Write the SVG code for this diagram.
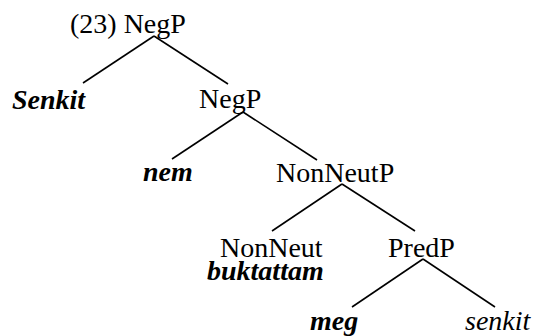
<svg xmlns="http://www.w3.org/2000/svg" width="535" height="336" viewBox="0 0 535 336">
<style>
text{font-family:'Liberation Serif','Times New Roman',Times,serif;font-size:28px;fill:#000}
.bi{font-weight:bold;font-style:italic}
.i{font-style:italic}
line{stroke:#000;stroke-width:1.6}
</style>
<rect width="535" height="336" fill="#fff"/>
<g id="connectors">
<line x1="154" y1="36" x2="83" y2="83"/>
<line x1="154" y1="36" x2="228" y2="84"/>
<line x1="243" y1="112" x2="172" y2="159"/>
<line x1="243" y1="112" x2="317" y2="160"/>
<line x1="342" y1="184" x2="272" y2="231"/>
<line x1="342" y1="184" x2="415" y2="231"/>
<line x1="423" y1="259" x2="352" y2="307"/>
<line x1="423" y1="259" x2="495" y2="307"/>
</g>
<g id="n_root"><text x="70" y="33">(23) NegP</text></g>
<g id="n_senkit1"><text class="bi" x="12" y="109">Senkit</text></g>
<g id="n_negp"><text x="199" y="108">NegP</text></g>
<g id="n_nem"><text class="bi" x="143" y="181">nem</text></g>
<g id="n_nonneutp"><text x="276" y="182">NonNeutP</text></g>
<g id="n_nonneut"><text><tspan x="220" y="257">NonNeut</tspan><tspan class="bi" x="207" y="280">buktattam</tspan></text></g>
<g id="n_predp"><text x="388" y="257">PredP</text></g>
<g id="n_meg"><text class="bi" x="310" y="330">meg</text></g>
<g id="n_senkit2"><text class="i" x="465" y="330">senkit</text></g>
</svg>
